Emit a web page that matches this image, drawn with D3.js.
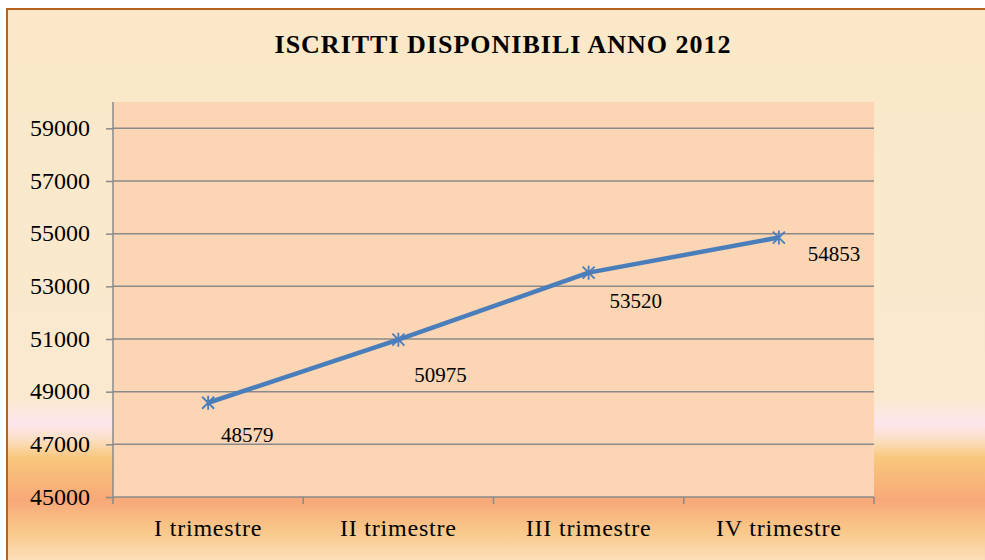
<!DOCTYPE html>
<html>
<head>
	<meta charset="utf-8">
	<title>Iscritti disponibili anno 2012</title>
	<script src="https://d3js.org/d3.v7.min.js" charset="utf-8"></script>
	<style type="text/css">
		body {
			margin: 0;
			background: #ffffff;
		}

		svg text {
			font-family: 'Liberation Serif', 'Times New Roman', serif;
			fill: #000000;
		}
	</style>
</head>
<body>
	<script type="text/javascript">
		var w = 985;
		var h = 560;

		// data
		var categories = ['I trimestre', 'II trimestre', 'III trimestre', 'IV trimestre'];
		var iscritti = [48579, 50975, 53520, 54853];
		var yTicks = [45000, 47000, 49000, 51000, 53000, 55000, 57000, 59000];
		var titleText = 'ISCRITTI DISPONIBILI ANNO 2012';

		// hand placed label offsets (dx, dy) as in the original
		var labelOffsets = [[39, 39], [42, 42], [47, 35], [55, 23]];

		var plot = { left: 113, right: 874, top: 102, bottom: 497 };

		var svg = d3.select('body')
			.append('svg')
			.attr('width', w)
			.attr('height', h);

		var defs = svg.append('defs');
		var grad = defs.append('linearGradient')
			.attr('id', 'bg')
			.attr('gradientUnits', 'userSpaceOnUse')
			.attr('x1', 0).attr('y1', 9)
			.attr('x2', 0).attr('y2', 566);

		[
			[9, '#fae8c8'],
			[398, '#fae9cf'],
			[424, '#fde5ee'],
			[440, '#fbdfc2'],
			[458, '#f9c77b'],
			[500, '#f8a878'],
			[532, '#f9c98b'],
			[566, '#fce2c2']
		].forEach(function (s) {
			grad.append('stop')
				.attr('offset', ((s[0] - 9) / (566 - 9)))
				.attr('stop-color', s[1]);
		});

		// outer frame
		svg.append('rect')
			.attr('x', 7)
			.attr('y', 9)
			.attr('width', 995)
			.attr('height', 570)
			.style('fill', 'url(#bg)')
			.style('stroke', '#b5621f')
			.style('stroke-width', 2);

		// title
		svg.append('text')
			.text(titleText)
			.attr('x', 503)
			.attr('y', 53)
			.attr('text-anchor', 'middle')
			.style('font-size', '26px')
			.style('font-weight', 'bold')
			.style('letter-spacing', '1px');

		var x = d3.scaleBand()
			.domain(categories)
			.range([plot.left, plot.right]);

		var y = d3.scaleLinear()
			.domain([45000, 60000])
			.range([plot.bottom, plot.top]);

		// plot area
		svg.append('rect')
			.attr('x', plot.left)
			.attr('y', plot.top)
			.attr('width', plot.right - plot.left)
			.attr('height', plot.bottom - plot.top)
			.style('fill', '#fbd5b4');

		// gridlines
		svg.append('g')
			.selectAll('line')
			.data(yTicks.slice(1))
			.enter()
			.append('line')
			.attr('x1', plot.left)
			.attr('x2', plot.right)
			.attr('y1', function (d) { return y(d); })
			.attr('y2', function (d) { return y(d); })
			.style('stroke', '#8a8a8a')
			.style('stroke-width', 1.5);

		// y axis
		var yAxis = svg.append('g')
			.attr('transform', 'translate(' + plot.left + ',0)')
			.call(d3.axisLeft(y).tickValues(yTicks).tickSize(7).tickPadding(16).tickFormat(d3.format('d')));

		yAxis.select('.domain').remove();
		yAxis.append('line')
			.attr('x1', 0).attr('x2', 0)
			.attr('y1', plot.top).attr('y2', plot.bottom + 7)
			.style('stroke', '#8a8a8a')
			.style('stroke-width', 1.5);
		yAxis.selectAll('.tick line')
			.style('stroke', '#8a8a8a')
			.style('stroke-width', 1.5);
		yAxis.selectAll('.tick text')
			.style('font-size', '24px')
			.style('font-family', "'Liberation Serif', serif")
			.attr('dy', '0.3em');

		// x axis
		var xAxis = svg.append('g')
			.attr('transform', 'translate(0,' + plot.bottom + ')')
			.call(d3.axisBottom(x).tickSize(0).tickPadding(0));

		xAxis.select('.domain').remove();
		xAxis.append('line')
			.attr('x1', plot.left).attr('x2', plot.right)
			.attr('y1', 0).attr('y2', 0)
			.style('stroke', '#8a8a8a')
			.style('stroke-width', 1.5);
		xAxis.selectAll('line.sep')
			.data(categories)
			.enter()
			.append('line')
			.attr('class', 'sep')
			.attr('x1', function (d) { return x(d) + x.bandwidth(); })
			.attr('x2', function (d) { return x(d) + x.bandwidth(); })
			.attr('y1', 0).attr('y2', 7)
			.style('stroke', '#8a8a8a')
			.style('stroke-width', 1.5);
		xAxis.selectAll('.tick text')
			.attr('y', 39)
			.attr('dy', 0)
			.style('font-size', '24px')
			.style('letter-spacing', '0.8px')
			.style('font-family', "'Liberation Serif', serif");

		// line
		var line = d3.line()
			.x(function (d, i) { return x(categories[i]) + x.bandwidth() / 2; })
			.y(function (d) { return y(d); });

		svg.append('path')
			.datum(iscritti)
			.attr('d', line)
			.style('fill', 'none')
			.style('stroke', '#4a7ebb')
			.style('stroke-width', 4.5)
			.style('stroke-linejoin', 'round');

		// asterisk markers
		var m = 6;
		svg.append('g')
			.selectAll('path')
			.data(iscritti)
			.enter()
			.append('path')
			.attr('transform', function (d, i) {
				return 'translate(' + (x(categories[i]) + x.bandwidth() / 2) + ',' + y(d) + ')';
			})
			.attr('d', 'M' + (-m) + ',' + (-m) + 'L' + m + ',' + m +
				'M' + (-m) + ',' + m + 'L' + m + ',' + (-m) +
				'M0,' + (-m - 1) + 'L0,' + (m + 1))
			.style('stroke', '#4a7ebb')
			.style('stroke-width', 1.8)
			.style('fill', 'none');

		// data labels
		svg.append('g')
			.selectAll('text')
			.data(iscritti)
			.enter()
			.append('text')
			.text(function (d) { return d; })
			.attr('x', function (d, i) { return x(categories[i]) + x.bandwidth() / 2 + labelOffsets[i][0]; })
			.attr('y', function (d, i) { return y(d) + labelOffsets[i][1]; })
			.attr('text-anchor', 'middle')
			.style('font-size', '21px');
	</script>
</body>
</html>
